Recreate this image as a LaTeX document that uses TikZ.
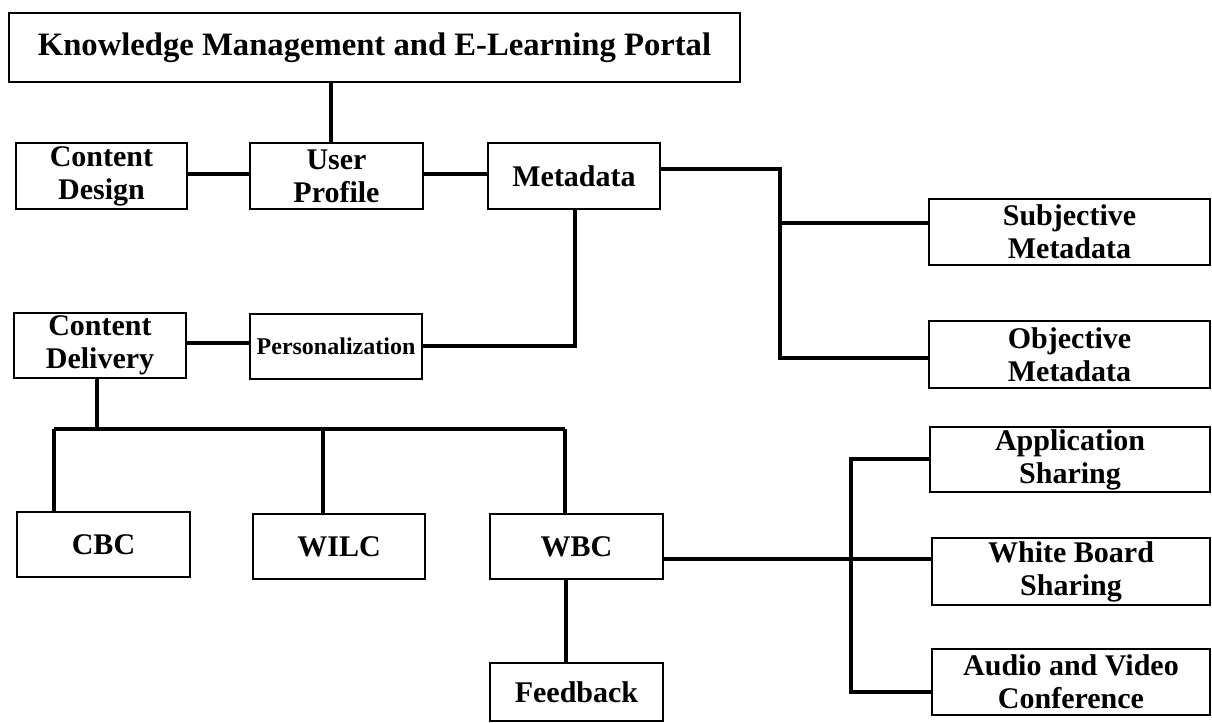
\documentclass[tikz,border=0pt]{standalone}
\usepackage{fontspec}
\setmainfont{Liberation Serif}
\begin{document}
\begin{tikzpicture}[x=0.75pt,y=-0.75pt,
  box/.style={draw,line width=1pt,inner sep=0pt,outer sep=0pt,align=center,
    font=\fontsize{22.5}{24.75}\selectfont\bfseries},
  conn/.style={line width=2.3pt,line join=miter}]
\useasboundingbox (0,0) rectangle (1212,723);

% top level
\node[box,minimum width=548.25pt,minimum height=51.75pt,
  font=\fontsize{24.5}{27}\selectfont\bfseries] (portal) at (374.5,47.5)
  {Knowledge Management and E-Learning Portal};

% second row
\node[box,minimum width=128.25pt,minimum height=49.5pt] (design) at (101.5,176) {Content\\Design};
\node[box,minimum width=129.75pt,minimum height=49.5pt] (profile) at (336.5,176) {User\\Profile};
\node[box,minimum width=129pt,minimum height=49.5pt] (meta) at (574,176) {Metadata};

% metadata kinds
\node[box,minimum width=210.75pt,minimum height=49.5pt] (subj) at (1069.5,232) {Subjective\\Metadata};
\node[box,minimum width=210.75pt,minimum height=50.25pt] (obj) at (1069.5,354.5) {Objective\\Metadata};

% delivery row
\node[box,minimum width=129pt,minimum height=48.75pt] (delivery) at (100,345.5) {Content\\Delivery};
\node[box,minimum width=129pt,minimum height=48.75pt,
  font=\fontsize{18}{20}\selectfont\bfseries] (pers) at (336,346.5) {Personalization};

% delivery channels
\node[box,minimum width=129.75pt,minimum height=48.75pt] (cbc) at (103.5,544.5) {CBC};
\node[box,minimum width=129pt,minimum height=48.75pt] (wilc) at (339,546.5) {WILC};
\node[box,minimum width=129.75pt,minimum height=48.75pt] (wbc) at (576.5,546.5) {WBC};
\node[box,minimum width=129.75pt,minimum height=43.5pt] (feedback) at (576.5,692) {Feedback};

% collaboration tools
\node[box,minimum width=210pt,minimum height=48.75pt] (app) at (1070,459.5) {Application\\Sharing};
\node[box,minimum width=208.5pt,minimum height=50.25pt] (white) at (1071,571.5) {White Board\\Sharing};
\node[box,minimum width=208.5pt,minimum height=49.5pt] (av) at (1071,682) {Audio and Video\\Conference};

% junction points
\coordinate (pu) at (331,0);
\coordinate (rowy) at (0,174);
\coordinate (mj) at (780,169);
\coordinate (sj) at (780,223);
\coordinate (oj) at (780,358);
\coordinate (mp) at (575,346);
\coordinate (dp) at (0,343);
\coordinate (dj) at (97,429);
\coordinate (bl) at (54,429);
\coordinate (bm) at (323,429);
\coordinate (br) at (565,429);
\coordinate (wy) at (0,559);
\coordinate (tj) at (851,459);
\coordinate (aj) at (851,692);
\coordinate (fx) at (566,0);

% connectors
\draw[conn] (portal.south -| pu) -- (profile.north -| pu);
\draw[conn] (design.east |- rowy) -- (profile.west |- rowy);
\draw[conn] (profile.east |- rowy) -- (meta.west |- rowy);
\draw[conn] (meta.east |- mj) -- (mj) -- (oj) -- (obj.west |- oj);
\draw[conn] (sj) -- (subj.west |- sj);
\draw[conn] (meta.south -| mp) -- (mp) -- (pers.east |- mp);
\draw[conn] (delivery.east |- dp) -- (pers.west |- dp);
\draw[conn] (delivery.south -| dj) -- (dj);
\draw[conn] (bl) -- (br);
\draw[conn] (bl) -- (cbc.north -| bl);
\draw[conn] (bm) -- (wilc.north -| bm);
\draw[conn] (br) -- (wbc.north -| br);
\draw[conn] (wbc.east |- wy) -- (white.west |- wy);
\draw[conn] (app.west |- tj) -- (tj) -- (aj) -- (av.west |- aj);
\draw[conn] (wbc.south -| fx) -- (feedback.north -| fx);
\end{tikzpicture}
\end{document}
